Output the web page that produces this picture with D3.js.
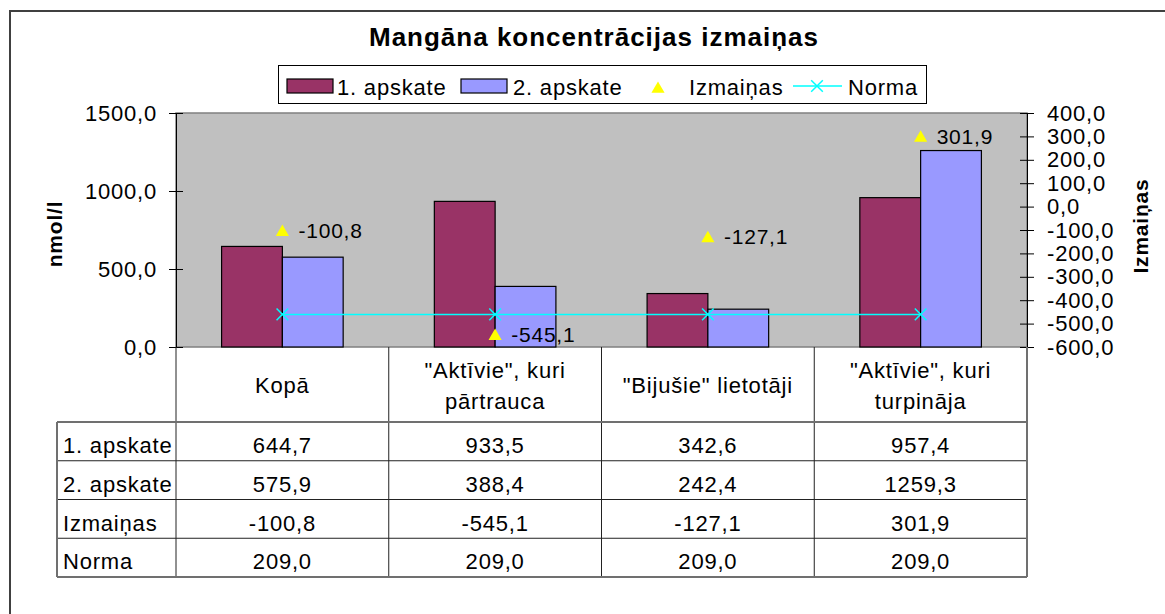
<!DOCTYPE html>
<html>
<head>
<meta charset="utf-8">
<script src="https://cdn.jsdelivr.net/npm/d3@7"></script>
<style>
  body { margin: 0; background: #fff; }
  text { font-family: "Liberation Sans", Arial, sans-serif; fill: #000; letter-spacing: 0.8px; }
</style>
</head>
<body>
<div id="chart"></div>
<script>
// data
var categories = ["Kopā", "\"Aktīvie\", kuri\npārtrauca", "\"Bijušie\" lietotāji", "\"Aktīvie\", kuri\nturpināja"];
var apskate1 = [644.7, 933.5, 342.6, 957.4];
var apskate2 = [575.9, 388.4, 242.4, 1259.3];
var izmainas = [-100.8, -545.1, -127.1, 301.9];
var norma = [209.0, 209.0, 209.0, 209.0];
var leftTicks = [0, 500, 1000, 1500];
var rightTicks = [-600, -500, -400, -300, -200, -100, 0, 100, 200, 300, 400];

var svgWidth = 1165;
var svgHeight = 614;

var plot = { left: 176, right: 1027, top: 113, bottom: 347 };
var fs = 22;

var locale = d3.formatLocale({ decimal: ",", thousands: "", grouping: [3], currency: ["", ""], minus: "-" });
var fmt = locale.format(".1f");

var svg = d3.select("#chart")
  .append("svg")
  .attr("width", svgWidth)
  .attr("height", svgHeight);

// outer frame
svg.append("rect")
  .attr("x", 10).attr("y", 11)
  .attr("width", 1200).attr("height", 700)
  .attr("fill", "#fff")
  .attr("stroke", "#404040")
  .attr("stroke-width", 2);

// title
svg.append("text")
  .attr("x", 594).attr("y", 46)
  .attr("text-anchor", "middle")
  .attr("font-size", 26)
  .attr("font-weight", "bold")
  .style("letter-spacing", "1px")
  .text("Mangāna koncentrācijas izmaiņas");

// scales
var x = d3.scaleBand()
  .domain(d3.range(categories.length))
  .range([plot.left, plot.right]);

var inner = d3.scaleBand()
  .domain([0, 1])
  .range([0, x.bandwidth()])
  .paddingOuter(0.75)
  .paddingInner(0);

var yLeft = d3.scaleLinear().domain([0, 1500]).range([plot.bottom, plot.top]);
var yRight = d3.scaleLinear().domain([-600, 400]).range([plot.bottom, plot.top]);

// plot area
svg.append("rect")
  .attr("x", plot.left).attr("y", plot.top)
  .attr("width", plot.right - plot.left)
  .attr("height", plot.bottom - plot.top)
  .attr("fill", "#c0c0c0")
  .attr("stroke", "#808080")
  .attr("stroke-width", 1.5);

// left axis
var leftAxis = d3.axisLeft(yLeft)
  .tickValues(leftTicks)
  .tickFormat(fmt)
  .tickSizeInner(7)
  .tickSizeOuter(0)
  .tickPadding(12);

var gl = svg.append("g")
  .attr("transform", `translate(${plot.left}, 0)`)
  .call(leftAxis);
gl.select(".domain").attr("stroke", "#000");
gl.selectAll(".tick line").attr("x2", -7).attr("x1", 7).attr("stroke", "#000");
gl.selectAll(".tick text")
  .attr("font-size", fs)
  .attr("font-family", "Liberation Sans, Arial, sans-serif")
  .attr("fill", "#000");

// right axis
var rightAxis = d3.axisRight(yRight)
  .tickValues(rightTicks)
  .tickFormat(fmt)
  .tickSizeInner(7)
  .tickSizeOuter(0)
  .tickPadding(13);

var gr = svg.append("g")
  .attr("transform", `translate(${plot.right}, 0)`)
  .call(rightAxis);
gr.select(".domain").attr("stroke", "#000");
gr.selectAll(".tick line").attr("x1", -7).attr("x2", 7).attr("stroke", "#000");
gr.selectAll(".tick text")
  .attr("font-size", fs)
  .attr("font-family", "Liberation Sans, Arial, sans-serif")
  .attr("fill", "#000");

// axis titles
svg.append("text")
  .attr("transform", `translate(62, 234) rotate(-90)`)
  .attr("text-anchor", "middle")
  .attr("font-size", 21)
  .attr("font-weight", "bold")
  .text("nmol/l");

svg.append("text")
  .attr("transform", `translate(1148, 226) rotate(-90)`)
  .attr("text-anchor", "middle")
  .attr("font-size", 21)
  .attr("font-weight", "bold")
  .text("Izmaiņas");

// bars
var barSeries = [
  { values: apskate1, color: "#993366" },
  { values: apskate2, color: "#9999ff" }
];

barSeries.forEach(function(s, si) {
  svg.append("g").selectAll("rect")
    .data(s.values)
    .enter()
    .append("rect")
    .attr("x", (d, i) => x(i) + inner(si))
    .attr("y", d => yLeft(d))
    .attr("width", inner.bandwidth())
    .attr("height", d => yLeft(0) - yLeft(d))
    .attr("fill", s.color)
    .attr("stroke", "#000")
    .attr("stroke-width", 1.2);
});

var cx = i => x(i) + x.bandwidth() / 2;

// norma line
var line = d3.line()
  .x((d, i) => cx(i))
  .y(d => yLeft(d));

svg.append("path")
  .datum(norma)
  .attr("d", line)
  .attr("fill", "none")
  .attr("stroke", "#00ffff")
  .attr("stroke-width", 1.5);

var xMark = d3.symbol().type(d3.symbolX).size(90);
svg.append("g").selectAll("path")
  .data(norma)
  .enter()
  .append("path")
  .attr("d", xMark)
  .attr("transform", (d, i) => `translate(${cx(i)}, ${yLeft(d)})`)
  .attr("fill", "none")
  .attr("stroke", "#00ffff")
  .attr("stroke-width", 1.5);

// izmainas triangles + labels
var tri = d3.symbol().type(d3.symbolTriangle).size(75);
svg.append("g").selectAll("path")
  .data(izmainas)
  .enter()
  .append("path")
  .attr("d", tri)
  .attr("transform", (d, i) => `translate(${cx(i)}, ${yRight(d) + 2})`)
  .attr("fill", "#ffff00");

svg.append("g").selectAll("text")
  .data(izmainas)
  .enter()
  .append("text")
  .attr("x", (d, i) => cx(i) + 16)
  .attr("y", d => yRight(d) + 8)
  .attr("font-size", 21)
  .text(d => fmt(d));

// legend
var legend = svg.append("g");
legend.append("rect")
  .attr("x", 278.5).attr("y", 65.5)
  .attr("width", 648).attr("height", 38)
  .attr("fill", "#fff")
  .attr("stroke", "#000");

legend.append("rect")
  .attr("x", 287).attr("y", 79).attr("width", 46).attr("height", 14)
  .attr("fill", "#993366").attr("stroke", "#000").attr("stroke-width", 1.2);
legend.append("text").attr("x", 337).attr("y", 95).attr("font-size", fs).text("1. apskate");

legend.append("rect")
  .attr("x", 461).attr("y", 79).attr("width", 46).attr("height", 14)
  .attr("fill", "#9999ff").attr("stroke", "#000").attr("stroke-width", 1.2);
legend.append("text").attr("x", 513).attr("y", 95).attr("font-size", fs).text("2. apskate");

legend.append("path")
  .attr("d", tri)
  .attr("transform", "translate(658, 89)")
  .attr("fill", "#ffff00");
legend.append("text").attr("x", 689).attr("y", 95).attr("font-size", fs).text("Izmaiņas");

legend.append("line")
  .attr("x1", 793).attr("x2", 842).attr("y1", 86).attr("y2", 86)
  .attr("stroke", "#00ffff").attr("stroke-width", 1.5);
legend.append("path")
  .attr("d", xMark)
  .attr("transform", "translate(817, 86)")
  .attr("fill", "none").attr("stroke", "#00ffff").attr("stroke-width", 1.5);
legend.append("text").attr("x", 848).attr("y", 95).attr("font-size", fs).text("Norma");

// data table
var tableLeft = 57;
var headerBottom = 422;
var rowH = 38.75;
var rows = [
  { name: "1. apskate", values: apskate1 },
  { name: "2. apskate", values: apskate2 },
  { name: "Izmaiņas", values: izmainas },
  { name: "Norma", values: norma }
];
var tableBottom = headerBottom + rows.length * rowH;

var table = svg.append("g");

// header cells: category names
categories.forEach(function(c, i) {
  var lines = c.split("\n");
  lines.forEach(function(l, li) {
    table.append("text")
      .attr("x", cx(i))
      .attr("y", 393 + (li - (lines.length - 1) / 2) * 31)
      .attr("text-anchor", "middle")
      .attr("font-size", fs)
      .text(l);
  });
});

// rows
rows.forEach(function(r, ri) {
  var y0 = headerBottom + ri * rowH;
  table.append("text")
    .attr("x", 63)
    .attr("y", y0 + 31)
    .attr("font-size", fs)
    .text(r.name);
  table.append("g").selectAll("text")
    .data(r.values)
    .enter()
    .append("text")
    .attr("x", (d, i) => cx(i))
    .attr("y", y0 + 31)
    .attr("text-anchor", "middle")
    .attr("font-size", fs)
    .text(d => fmt(d));
});

// table grid lines
for (var ri = 1; ri < rows.length; ri++) {
  table.append("line")
    .attr("x1", tableLeft).attr("x2", plot.right)
    .attr("y1", headerBottom + ri * rowH).attr("y2", headerBottom + ri * rowH)
    .attr("stroke", "#222");
}
d3.range(categories.length).forEach(function(i) {
  table.append("line")
    .attr("x1", x(i)).attr("x2", x(i))
    .attr("y1", plot.bottom).attr("y2", tableBottom)
    .attr("stroke", "#222");
});
table.append("line")
  .attr("x1", tableLeft).attr("x2", plot.right)
  .attr("y1", headerBottom).attr("y2", headerBottom)
  .attr("stroke", "#707070").attr("stroke-width", 2);
table.append("line")
  .attr("x1", tableLeft).attr("x2", plot.right)
  .attr("y1", tableBottom).attr("y2", tableBottom)
  .attr("stroke", "#707070").attr("stroke-width", 2);
table.append("line")
  .attr("x1", tableLeft).attr("x2", tableLeft)
  .attr("y1", headerBottom).attr("y2", tableBottom)
  .attr("stroke", "#707070").attr("stroke-width", 2);
table.append("line")
  .attr("x1", plot.right).attr("x2", plot.right)
  .attr("y1", plot.bottom).attr("y2", tableBottom)
  .attr("stroke", "#707070").attr("stroke-width", 2);
</script>
</body>
</html>
